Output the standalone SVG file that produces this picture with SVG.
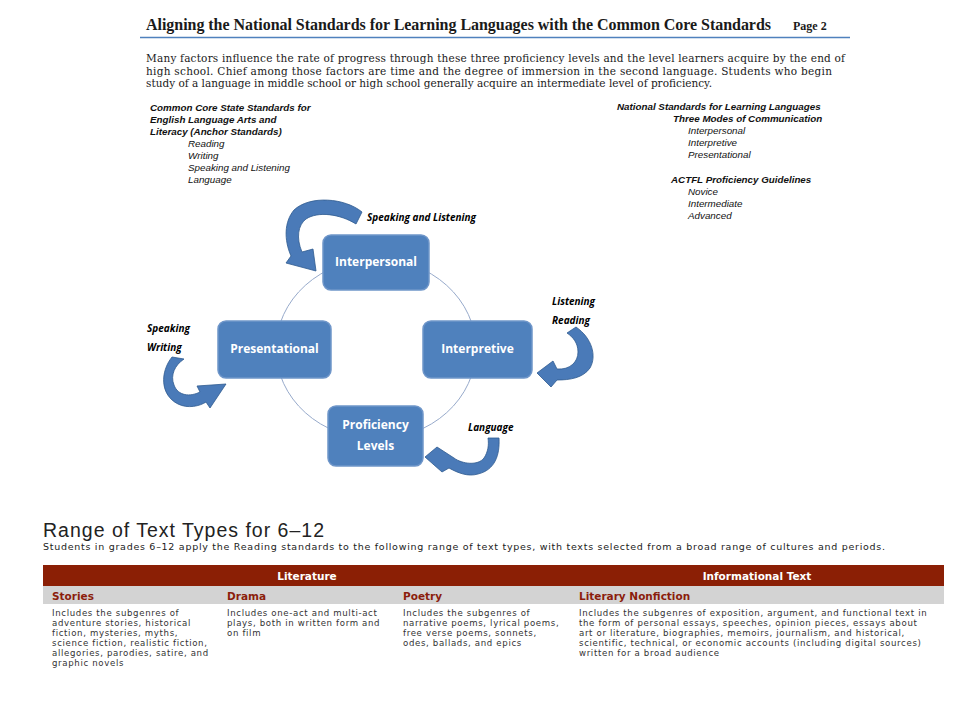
<svg xmlns="http://www.w3.org/2000/svg" width="960" height="720" viewBox="0 0 960 720">
<defs>
<style>
.ttl{font-family:"Liberation Serif","DejaVu Serif",serif;font-weight:bold;fill:#1a1a1a}
.par{font-family:"DejaVu Serif","Liberation Serif",serif;font-size:10.5px;fill:#1a1a1a}
.it{font-family:"Liberation Sans","Open Sans",sans-serif;font-style:italic;font-size:9.8px;fill:#111}
.itb{font-family:"Liberation Sans","Open Sans",sans-serif;font-style:italic;font-weight:bold;font-size:9.8px;fill:#111}
.lbl{font-family:"Open Sans","Liberation Sans",sans-serif;font-style:italic;font-weight:bold;font-size:10px;fill:#000}
.box{fill:#4f81bd;stroke:#6f96c9;stroke-width:1.5}
.bt{font-family:"Open Sans","Liberation Sans",sans-serif;font-weight:bold;font-size:12px;fill:#fff;text-anchor:middle}
.arr{fill:#4a7ab8;stroke:#2f5b8f;stroke-width:0.8}
.ring{fill:none;stroke:#97aacb;stroke-width:1}
.hd{font-family:"DejaVu Sans","Liberation Sans",sans-serif;font-weight:bold;font-size:10.5px;fill:#fff;text-anchor:middle}
.sh{font-family:"DejaVu Sans","Liberation Sans",sans-serif;font-weight:bold;font-size:10.5px;fill:#8b1d0c}
.bd{font-family:"DejaVu Sans","Liberation Sans",sans-serif;font-size:8.6px;letter-spacing:0.65px;fill:#333}
</style>
</defs>
<rect width="960" height="720" fill="#fff"/>

<g id="header">
<text class="ttl" x="146" y="30" font-size="16" textLength="625">Aligning the National Standards for Learning Languages with the Common Core Standards</text>
<text class="ttl" x="793" y="30" font-size="12">Page 2</text>
<line x1="140" y1="37.5" x2="850" y2="37.5" stroke="#4f81bd" stroke-width="1.5"/>
<text class="par" x="146" y="62" textLength="699">Many factors influence the rate of progress through these three proficiency levels and the level learners acquire by the end of</text>
<text class="par" x="146" y="74.5" textLength="686">high school.  Chief among those factors are time and the degree of immersion in the second language.  Students who begin</text>
<text class="par" x="146" y="87" textLength="566">study of a language in middle school or high school generally acquire an intermediate level of proficiency.</text>
</g>

<g id="ccss-list">
<text class="itb" x="150" y="111">Common Core State Standards for</text>
<text class="itb" x="150" y="123">English Language Arts and</text>
<text class="itb" x="150" y="135">Literacy  (Anchor Standards)</text>
<text class="it" x="188" y="147">Reading</text>
<text class="it" x="188" y="159">Writing</text>
<text class="it" x="188" y="171">Speaking and Listening</text>
<text class="it" x="188" y="183">Language</text>
</g>

<g id="nsll-list">
<text class="itb" x="617" y="110">National Standards for Learning Languages</text>
<text class="itb" x="673" y="122">Three Modes of Communication</text>
<text class="it" x="688" y="134">Interpersonal</text>
<text class="it" x="688" y="146">Interpretive</text>
<text class="it" x="688" y="158">Presentational</text>
<text class="itb" x="671" y="183">ACTFL Proficiency Guidelines</text>
<text class="it" x="688" y="195">Novice</text>
<text class="it" x="688" y="207">Intermediate</text>
<text class="it" x="688" y="219">Advanced</text>
</g>

<g id="connectors">
<ellipse class="ring" cx="376" cy="349" rx="100" ry="90"/>
<path class="arr" d="M 362 212 C 345 198, 310 195, 294 210 C 284 222, 284 240, 291 256 L 286 263 L 316 271 L 313 249 L 302 252 C 296 238, 298 225, 306 219 C 318 211, 340 214, 356 224 Z"/>
<path class="arr" d="M 172 357 C 160 372, 160 395, 178 404 C 188 409, 200 406, 206 402 L 210 408 L 226 384 L 197 386 L 200 392 C 190 397, 178 396, 174 385 C 170 375, 175 365, 184 359 Z"/>
<path class="arr" d="M 567 333 L 576 327 C 592 338, 597 356, 590 368 C 583 378, 570 380, 557 380 L 551 387 L 537 373 L 553 361 L 557 369 C 570 370, 578 362, 578 352 C 578 343, 573 337, 567 333 Z"/>
<path class="arr" d="M 488 438 L 499 438 C 500 455, 495 470, 478 474 C 468 477, 458 473, 449 468 L 442 472 L 425 457 L 437 447 L 454 458 C 462 464, 478 466, 484 458 C 488 452, 489 445, 488 438 Z"/>
</g>

<g id="labels">
<text class="lbl" x="367" y="221">Speaking and Listening</text>
<text class="lbl" x="552" y="305">Listening</text>
<text class="lbl" x="552" y="324">Reading</text>
<text class="lbl" x="147" y="332">Speaking</text>
<text class="lbl" x="147" y="351">Writing</text>
<text class="lbl" x="468" y="431">Language</text>
</g>

<g id="node-interpersonal">
<rect class="box" x="323" y="235" width="106" height="55" rx="8"/>
<text class="bt" x="376" y="266">Interpersonal</text>
</g>
<g id="node-presentational">
<rect class="box" x="218" y="321" width="113" height="57" rx="8"/>
<text class="bt" x="274.5" y="353">Presentational</text>
</g>
<g id="node-interpretive">
<rect class="box" x="423" y="321" width="109" height="57" rx="8"/>
<text class="bt" x="477.5" y="353">Interpretive</text>
</g>
<g id="node-proficiency">
<rect class="box" x="328" y="406" width="95" height="60" rx="8"/>
<text class="bt" x="375.5" y="429">Proficiency</text>
<text class="bt" x="375.5" y="450">Levels</text>
</g>

<g id="text-types">
<text x="43" y="537" font-family="Liberation Sans, sans-serif" font-size="19.5" fill="#222" textLength="281">Range of Text Types for 6–12</text>
<text x="43" y="550" font-family="DejaVu Sans, Liberation Sans, sans-serif" font-size="9.5" fill="#222" textLength="842">Students in grades 6–12 apply the Reading standards to the following range of text types, with texts selected from a broad range of cultures and periods.</text>
<rect x="43" y="565" width="901" height="21" fill="#8b1f05"/>
<rect x="43" y="586" width="901" height="18" fill="#d3d3d3"/>
<text class="hd" x="307" y="580">Literature</text>
<text class="hd" x="757" y="580">Informational Text</text>
<text class="sh" x="52" y="600">Stories</text>
<text class="sh" x="227" y="600">Drama</text>
<text class="sh" x="403" y="600">Poetry</text>
<text class="sh" x="579" y="600">Literary Nonfiction</text>
<text class="bd" x="52" y="616">Includes the subgenres of</text>
<text class="bd" x="52" y="626">adventure stories, historical</text>
<text class="bd" x="52" y="636">fiction, mysteries, myths,</text>
<text class="bd" x="52" y="646">science fiction, realistic fiction,</text>
<text class="bd" x="52" y="656">allegories, parodies, satire, and</text>
<text class="bd" x="52" y="666">graphic novels</text>
<text class="bd" x="227" y="616">Includes one-act and multi-act</text>
<text class="bd" x="227" y="626">plays, both in written form and</text>
<text class="bd" x="227" y="636">on film</text>
<text class="bd" x="403" y="616">Includes the subgenres of</text>
<text class="bd" x="403" y="626">narrative poems, lyrical poems,</text>
<text class="bd" x="403" y="636">free verse poems, sonnets,</text>
<text class="bd" x="403" y="646">odes, ballads, and epics</text>
<text class="bd" x="579" y="616">Includes the subgenres of exposition, argument, and functional text in</text>
<text class="bd" x="579" y="626">the form of personal essays, speeches, opinion pieces, essays about</text>
<text class="bd" x="579" y="636">art or literature, biographies, memoirs, journalism, and historical,</text>
<text class="bd" x="579" y="646">scientific, technical, or economic accounts (including digital sources)</text>
<text class="bd" x="579" y="656">written for a broad audience</text>
</g>
</svg>
